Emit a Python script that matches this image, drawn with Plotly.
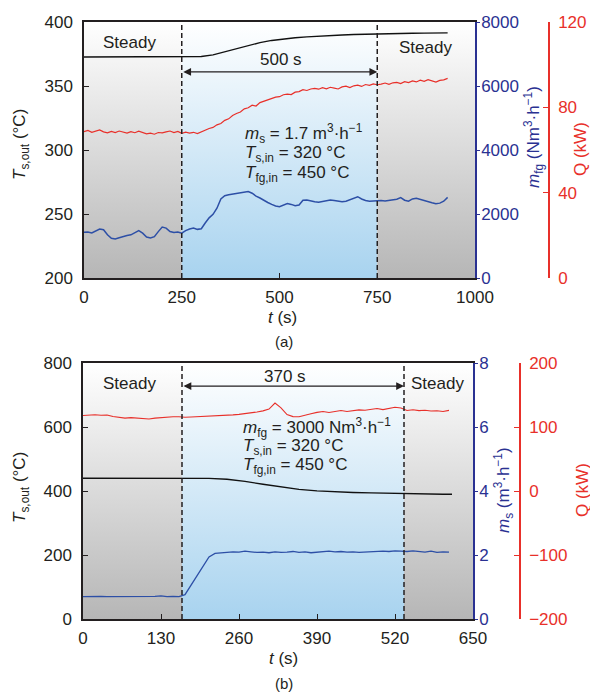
import plotly.graph_objects as go

# ---------------- data ----------------
# (a) varying flue-gas flow
top_t = list(range(0, 940, 10))
top_q = [68.6, 69.2, 68.3, 68.9, 69.4, 68.5, 68.0, 68.7, 68.2, 68.9,
         68.4, 67.9, 68.6, 68.1, 68.8, 68.3, 67.6, 67.9, 67.4, 68.2,
         68.0, 68.5, 68.9, 68.2, 68.7, 67.8, 68.4, 67.9, 68.3, 67.7,
         68.6, 69.3, 70.1, 70.6, 71.8, 72.4, 73.9, 74.6, 76.2, 77.1,
         77.8, 79.3, 79.8, 81.0, 80.6, 82.2, 82.9, 83.3, 84.1, 84.8,
         85.0, 85.9, 86.2, 86.0, 87.1, 87.4, 88.3, 87.9, 88.6, 88.9,
         88.5, 89.2, 88.7, 89.4, 89.0, 88.6, 89.6, 89.9, 89.3, 90.1,
         90.4, 89.8, 90.7, 90.3, 91.0, 90.6, 90.9, 91.4, 90.8, 91.5,
         91.7, 91.1, 92.0, 91.6, 92.4, 91.9, 92.7, 92.2, 93.0, 92.4,
         91.8, 92.6, 92.9, 93.6]
top_mfg = [1430, 1440, 1410, 1460, 1530, 1510, 1350, 1240, 1220, 1260,
           1300, 1330, 1350, 1420, 1480, 1400, 1280, 1250, 1290, 1450,
           1590, 1560, 1450, 1420, 1440, 1400, 1480, 1530, 1560, 1520,
           1540, 1720, 1880, 1990, 2180, 2470, 2570, 2600, 2620, 2640,
           2660, 2690, 2700, 2650, 2560, 2500, 2420, 2360, 2300, 2250,
           2230, 2290, 2330, 2300, 2260, 2280, 2430, 2440, 2400, 2380,
           2370, 2400, 2420, 2440, 2420, 2390, 2380, 2400, 2440, 2480,
           2540, 2470, 2420, 2400, 2410, 2430, 2420, 2410, 2430, 2440,
           2460, 2510, 2430, 2400, 2470, 2490, 2450, 2410, 2390, 2350,
           2320, 2340, 2400, 2520]
top_tk_t = list(range(0, 940, 30))
top_tout = [372.6, 372.6, 372.5, 372.5, 372.5, 372.5, 372.5, 372.5, 372.6, 372.6,
            373.0, 374.3, 376.6, 379.3, 381.8, 383.9, 385.6, 386.8, 387.7, 388.4,
            389.0, 389.5, 389.9, 390.2, 390.5, 390.7, 390.9, 391.1, 391.2, 391.3,
            391.4, 391.5]
top_steady_end = 250
top_steady_start = 750

# (b) varying salt flow
bot_t = list(range(0, 620, 10))
bot_q = [118.0, 118.6, 119.2, 118.4, 118.8, 116.5, 114.8, 113.9, 114.6, 114.2,
         113.2, 112.6, 113.8, 114.9, 115.4, 116.1, 116.0, 115.2, 115.6, 115.9,
         116.4, 116.9, 117.1, 117.6, 118.1, 118.9, 119.8, 120.9, 121.8, 123.4,
         125.2, 128.0, 137.5, 130.0, 119.5, 116.2, 116.0, 117.8, 120.6, 122.8,
         124.1, 122.6, 123.9, 125.8, 124.2, 125.9, 126.8, 126.1, 127.9, 128.8,
         127.2, 129.1, 130.8, 129.6, 125.8, 127.0, 125.6, 126.1, 124.9, 125.3,
         124.2, 126.0]
bot_ms = [0.70, 0.71, 0.72, 0.71, 0.70, 0.70, 0.69, 0.70, 0.70, 0.69,
          0.70, 0.71, 0.71, 0.72, 0.70, 0.71, 0.70, 0.76, 1.05, 1.35,
          1.65, 1.94, 2.05, 2.07, 2.08, 2.10, 2.09, 2.12, 2.10, 2.08,
          2.09, 2.07, 2.10, 2.08, 2.09, 2.11, 2.08, 2.10, 2.07, 2.09,
          2.10, 2.12, 2.10, 2.11, 2.09, 2.10, 2.08, 2.09, 2.11, 2.10,
          2.12, 2.11, 2.13, 2.12, 2.11, 2.13, 2.10, 2.09, 2.12, 2.08,
          2.10, 2.09]
bot_tk_t = [0, 60, 120, 180, 210, 240, 270, 300, 330, 360, 390, 420, 450,
            480, 510, 540, 570, 600, 615]
bot_tout = [440, 440, 440, 440, 439.5, 436.5, 430, 421, 412, 405, 400.5,
            397.5, 395.5, 394, 392.5, 391.2, 390.4, 390, 390]
bot_steady_end = 165
bot_steady_start = 535

top_xticks = [0, 250, 500, 750, 1000]
bot_xticks = [0, 130, 260, 390, 520, 650]

# ---------------- style ----------------
PAGE_OFF = 8            # default page body margin
W, H = 598 - PAGE_OFF, 695 - PAGE_OFF
FONT = "Liberation Sans, Arial, sans-serif"
DARK = "#231f20"
RED = "#e8302a"
BLUE_L = "#2d4fa6"
BLUE_A = "#2a3192"
GRAY_B = "#b6b6b6"
SKY_B = "#a8d3ef"
FS = 17


def fx(p):
    return (p - PAGE_OFF) / W


def fy(p):
    return 1 - (p - PAGE_OFF) / H


fig = go.Figure()


def band(x0, x1, y0, y1, col, xa, ya):
    fig.add_trace(go.Scatter(
        x=[x0, x1, x1, x0, x0], y=[y0, y0, y1, y1, y0], mode="none",
        fill="toself",
        fillgradient=dict(type="vertical", colorscale=[[0, col], [1, "#ffffff"]]),
        xaxis=xa, yaxis=ya, hoverinfo="skip", showlegend=False))


# backgrounds
band(0, top_steady_end, 200, 400, GRAY_B, "x", "y")
band(top_steady_end, top_steady_start, 200, 400, SKY_B, "x", "y")
band(top_steady_start, 1000, 200, 400, GRAY_B, "x", "y")
band(0, bot_steady_end, 0, 800, GRAY_B, "x2", "y4")
band(bot_steady_end, bot_steady_start, 0, 800, SKY_B, "x2", "y4")
band(bot_steady_start, 650, 0, 800, GRAY_B, "x2", "y4")

# top lines
fig.add_trace(go.Scatter(x=top_tk_t, y=top_tout, mode="lines",
                         line=dict(color="#111111", width=1.4), xaxis="x", yaxis="y",
                         showlegend=False))
fig.add_trace(go.Scatter(x=top_t, y=top_mfg, mode="lines",
                         line=dict(color=BLUE_L, width=1.5), xaxis="x", yaxis="y2",
                         showlegend=False))
fig.add_trace(go.Scatter(x=top_t, y=top_q, mode="lines",
                         line=dict(color=RED, width=1.2), xaxis="x", yaxis="y3",
                         showlegend=False))
# bottom lines
fig.add_trace(go.Scatter(x=bot_tk_t, y=bot_tout, mode="lines",
                         line=dict(color="#111111", width=1.4), xaxis="x2", yaxis="y4",
                         showlegend=False))
fig.add_trace(go.Scatter(x=bot_t, y=bot_ms, mode="lines",
                         line=dict(color=BLUE_L, width=1.3), xaxis="x2", yaxis="y5",
                         showlegend=False))
fig.add_trace(go.Scatter(x=bot_t, y=bot_q, mode="lines",
                         line=dict(color=RED, width=1.1), xaxis="x2", yaxis="y6",
                         showlegend=False))

tickf = dict(family=FONT, size=FS, color=DARK)
top_dom_x = [fx(84), fx(475)]
top_dom_y = [fy(278), fy(22)]
bot_dom_x = [fx(83), fx(473)]
bot_dom_y = [fy(619), fy(363)]

common = dict(showgrid=False, zeroline=False, automargin=False, showline=True,
              linewidth=1.5)

fig.update_layout(
    width=W, height=H, margin=dict(l=0, r=0, t=0, b=0, pad=0, autoexpand=False),
    paper_bgcolor="white", plot_bgcolor="white",
    font=dict(family=FONT, size=FS, color=DARK),
    xaxis=dict(domain=top_dom_x, anchor="y", range=[0, 1000], tickvals=top_xticks,
               ticks="inside", ticklen=5, tickcolor=DARK, linecolor=DARK,
               mirror=True, tickfont=tickf, ticklabelstandoff=3, **common),
    yaxis=dict(domain=top_dom_y, anchor="x", range=[200, 400], dtick=50,
               ticks="inside", ticklen=5, tickcolor=DARK, linecolor=DARK,
               tickfont=tickf, ticklabelstandoff=6, **common),
    yaxis2=dict(overlaying="y", side="right", anchor="x", range=[0, 8000], dtick=2000,
                ticks="outside", ticklen=3, tickcolor=BLUE_A, linecolor=BLUE_A,
                tickfont=dict(family=FONT, size=FS, color=BLUE_A),
                ticklabelstandoff=-2, **common),
    yaxis3=dict(overlaying="y", side="right", anchor="free", position=fx(549),
                range=[0, 120], dtick=40, ticks="inside", ticklen=5, tickcolor=RED,
                linecolor=RED, tickfont=dict(family=FONT, size=FS, color=RED),
                ticklabelstandoff=5, **common),
    xaxis2=dict(domain=bot_dom_x, anchor="y4", range=[0, 650], tickvals=bot_xticks,
                ticks="inside", ticklen=5, tickcolor=DARK, linecolor=DARK,
                mirror=True, tickfont=tickf, ticklabelstandoff=3, **common),
    yaxis4=dict(domain=bot_dom_y, anchor="x2", range=[0, 800], dtick=200,
                ticks="inside", ticklen=5, tickcolor=DARK, linecolor=DARK,
                tickfont=tickf, ticklabelstandoff=6, **common),
    yaxis5=dict(overlaying="y4", side="right", anchor="x2", range=[0, 8], dtick=2,
                ticks="outside", ticklen=3, tickcolor=BLUE_A, linecolor=BLUE_A,
                tickfont=dict(family=FONT, size=FS, color=BLUE_A),
                ticklabelstandoff=-2, **common),
    yaxis6=dict(overlaying="y4", side="right", anchor="free", position=fx(520),
                range=[-200, 200], dtick=100, ticks="inside", ticklen=5, tickcolor=RED,
                linecolor=RED, tickfont=dict(family=FONT, size=FS, color=RED),
                ticklabelstandoff=5, **common),
)

# dashed boundaries
DASH = "5px,3px"
for xv in (top_steady_end, top_steady_start):
    fig.add_shape(type="line", xref="x", yref="y domain", x0=xv, x1=xv, y0=0, y1=1,
                  line=dict(color=DARK, width=1.5, dash=DASH))
for xv in (bot_steady_end, bot_steady_start):
    fig.add_shape(type="line", xref="x2", yref="y4 domain", x0=xv, x1=xv, y0=0, y1=1,
                  line=dict(color=DARK, width=1.5, dash=DASH))

ann = []


def txt(x, y, s, color=DARK, angle=0, xanchor="center", size=FS):
    ann.append(dict(x=x, y=y, xref="paper", yref="paper", text=s, showarrow=False,
                    font=dict(family=FONT, size=size, color=color), textangle=angle,
                    xanchor=xanchor, yanchor="middle"))


# double arrows
ann.append(dict(x=top_steady_start, y=361, ax=top_steady_end, ay=361, xref="x", yref="y",
                axref="x", ayref="y", text="", showarrow=True, arrowhead=2,
                arrowside="end+start", arrowsize=1.2, arrowwidth=1.3, arrowcolor=DARK,
                standoff=0, startstandoff=0))
ann.append(dict(x=bot_steady_start, y=728, ax=bot_steady_end, ay=728, xref="x2",
                yref="y4", axref="x2", ayref="y4", text="", showarrow=True, arrowhead=2,
                arrowside="end+start", arrowsize=1.2, arrowwidth=1.3, arrowcolor=DARK,
                standoff=0, startstandoff=0))

txt(fx(281), fy(60), "500 s")
txt(fx(285), fy(376), "370 s")
txt(fx(130), fy(42), "Steady")
txt(fx(425), fy(48), "Steady")
txt(fx(130), fy(383), "Steady")
txt(fx(437), fy(383), "Steady")

txt(fx(243), fy(134), "<i>m</i><sub>s</sub> = 1.7 m<sup>3</sup>·h<sup>−1</sup>", xanchor="left")
txt(fx(243), fy(154), "<i>T</i><sub>s,in</sub> = 320 °C", xanchor="left")
txt(fx(243), fy(174), "<i>T</i><sub>fg,in</sub> = 450 °C", xanchor="left")
txt(fx(241), fy(427), "<i>m</i><sub>fg</sub> = 3000 Nm<sup>3</sup>·h<sup>−1</sup>", xanchor="left")
txt(fx(241), fy(447), "<i>T</i><sub>s,in</sub> = 320 °C", xanchor="left")
txt(fx(241), fy(466), "<i>T</i><sub>fg,in</sub> = 450 °C", xanchor="left")

# axis titles
txt(fx(21), fy(145), "<i>T</i><sub>s,out</sub> (°C)", angle=-90)
txt(fx(533), fy(137), "<i>m</i><sub>fg</sub> (Nm<sup>3</sup>·h<sup>−1</sup>)", color=BLUE_A, angle=-90)
txt(fx(580), fy(149), "Q (kW)", color=RED, angle=-90)
txt(fx(21), fy(488), "<i>T</i><sub>s,out</sub> (°C)", angle=-90)
txt(fx(503), fy(490), "<i>m</i><sub>s</sub> (m<sup>3</sup>·h<sup>−1</sup>)", color=BLUE_A, angle=-90)
txt(fx(582), fy(490), "Q (kW)", color=RED, angle=-90)
txt(fx(282), fy(317), "<i>t</i> (s)")
txt(fx(283), fy(658), "<i>t</i> (s)")
txt(fx(284), fy(341), "(a)", size=15)
txt(fx(284), fy(683), "(b)", size=15)

fig.update_layout(annotations=ann)
fig.write_html("out.html")
